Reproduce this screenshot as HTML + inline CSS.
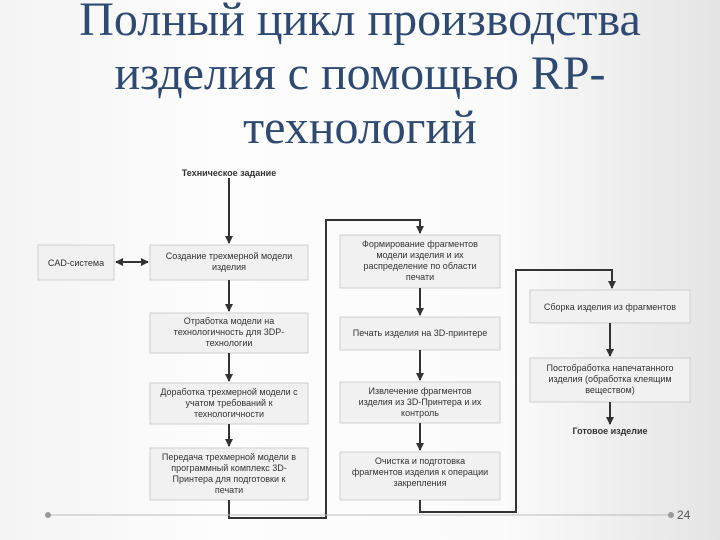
<!DOCTYPE html>
<html><head><meta charset="utf-8"><style>
html,body{margin:0;padding:0}
body{width:720px;height:540px;overflow:hidden;background:linear-gradient(90deg,#f4f4f4 0%,#fdfdfd 30%,#fbfbfb 70%,#e4e4e4 100%);position:relative;font-family:"Liberation Sans","Noto Sans CJK SC",sans-serif}
.t{position:absolute;left:0;top:-7px;width:720px;text-align:center;font-family:"Liberation Serif","Noto Serif CJK SC",serif;font-size:48px;line-height:54px;color:#2f4a72}
svg{position:absolute;left:0;top:0}
</style></head><body>
<div class="t">Полный цикл производства<br>изделия с помощью RP-<br>технологий</div>
<svg width="720" height="540" viewBox="0 0 720 540">
<defs><marker id="a" markerWidth="8" markerHeight="8" refX="7" refY="4" orient="auto" markerUnits="userSpaceOnUse"><path d="M0,0L8,4L0,8z" fill="#333"/></marker></defs>
<g fill="#f1f1f1" stroke="#d0d0d0" stroke-width="1">
<rect x="38" y="245" width="76" height="35"/>
<rect x="150" y="245" width="158" height="35"/>
<rect x="150" y="313" width="158" height="40"/>
<rect x="150" y="383" width="158" height="41"/>
<rect x="150" y="448" width="158" height="52"/>
<rect x="340" y="235" width="160" height="53"/>
<rect x="340" y="317" width="160" height="33"/>
<rect x="340" y="382" width="160" height="41"/>
<rect x="340" y="452" width="160" height="48"/>
<rect x="530" y="290" width="160" height="33"/>
<rect x="530" y="358" width="160" height="44"/>
</g>
<g stroke="#333" stroke-width="2" fill="none">
<path d="M229 178V243" marker-end="url(#a)"/>
<path d="M229 280V311" marker-end="url(#a)"/>
<path d="M229 353V381" marker-end="url(#a)"/>
<path d="M229 424V446" marker-end="url(#a)"/>
<path d="M229 500V518H326V220H420V233" marker-end="url(#a)"/>
<path d="M420 288V315" marker-end="url(#a)"/>
<path d="M420 350V380" marker-end="url(#a)"/>
<path d="M420 423V450" marker-end="url(#a)"/>
<path d="M420 500V512H516V270H612V288" marker-end="url(#a)"/>
<path d="M610 323V356" marker-end="url(#a)"/>
<path d="M610 402V424" marker-end="url(#a)"/>
<path d="M125 262H148" marker-end="url(#a)"/>
<path d="M135 262H116" marker-end="url(#a)"/>
</g>
<g font-size="9" fill="#333" text-anchor="middle">
<text x="229" y="176" font-weight="bold">Техническое задание</text>
<text x="610" y="434" font-weight="bold">Готовое изделие</text>
<text x="76" y="266">CAD-система</text>
<text x="229" y="259">Создание трехмерной модели</text><text x="229" y="270">изделия</text>
<text x="229" y="324">Отработка модели на</text><text x="229" y="335">технологичность для 3DP-</text><text x="229" y="346">технологии</text>
<text x="229" y="395">Доработка трехмерной модели с</text><text x="229" y="406">учатом требований к</text><text x="229" y="417">технологичности</text>
<text x="229" y="460">Передача трехмерной модели в</text><text x="229" y="471">программный комплекс 3D-</text><text x="229" y="482">Принтера для подготовки к</text><text x="229" y="493">печати</text>
<text x="420" y="247">Формирование фрагментов</text><text x="420" y="258">модели изделия и их</text><text x="420" y="269">распределение по области</text><text x="420" y="280">печати</text>
<text x="420" y="336">Печать изделия на 3D-принтере</text>
<text x="420" y="394">Извлечение фрагментов</text><text x="420" y="405">изделия из 3D-Принтера и их</text><text x="420" y="416">контроль</text>
<text x="420" y="464">Очистка и подготовка</text><text x="420" y="475">фрагментов изделия к операции</text><text x="420" y="486">закрепления</text>
<text x="610" y="310">Сборка изделия из фрагментов</text>
<text x="610" y="371">Постобработка напечатанного</text><text x="610" y="382">изделия (обработка клеящим</text><text x="610" y="393">веществом)</text>
</g>
<line x1="50" y1="515" x2="668" y2="515" stroke="#bbb" stroke-width="1"/>
<circle cx="48" cy="515" r="3" fill="#999"/>
<circle cx="671" cy="515" r="3" fill="#999"/>
<text x="677" y="519" font-size="12" fill="#555">24</text>
</svg>
</body></html>
